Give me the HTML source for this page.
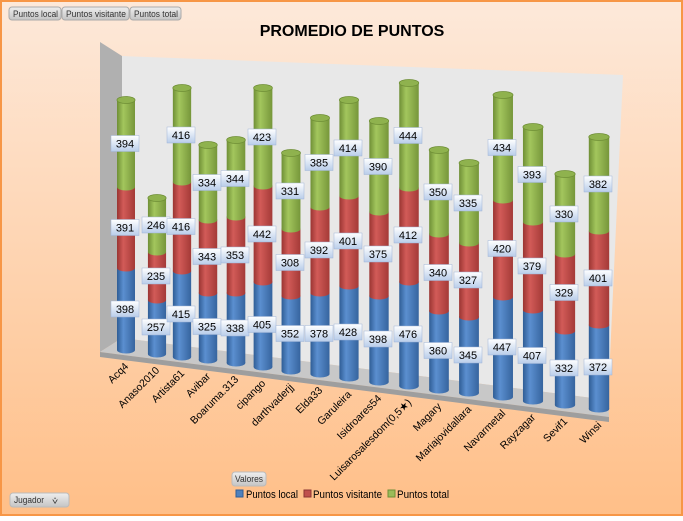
<!DOCTYPE html>
<html><head><meta charset="utf-8"><style>
html,body{margin:0;padding:0}
body{width:683px;height:516px;overflow:hidden;font-family:"Liberation Sans",sans-serif}
</style></head><body>
<svg id="s" width="683" height="516" viewBox="0 0 683 516" xmlns="http://www.w3.org/2000/svg" font-family="Liberation Sans, sans-serif">
<defs>
<linearGradient id="bg" x1="0" y1="0" x2="0" y2="1"><stop offset="0" stop-color="#fde9da"/><stop offset="1" stop-color="#ffbf88"/></linearGradient>
<linearGradient id="gb" x1="0" x2="1"><stop offset="0" stop-color="#2f5d95"/><stop offset="0.35" stop-color="#5b8fd0"/><stop offset="1" stop-color="#36649e"/></linearGradient>
<linearGradient id="gr" x1="0" x2="1"><stop offset="0" stop-color="#9a3532"/><stop offset="0.35" stop-color="#d25b58"/><stop offset="1" stop-color="#a43a37"/></linearGradient>
<linearGradient id="gg" x1="0" x2="1"><stop offset="0" stop-color="#6f8f36"/><stop offset="0.35" stop-color="#a3c65d"/><stop offset="1" stop-color="#76963a"/></linearGradient>
<linearGradient id="lb" x1="0" y1="0" x2="0" y2="1"><stop offset="0" stop-color="#ffffff"/><stop offset="1" stop-color="#b9cdea"/></linearGradient>
<linearGradient id="btn" x1="0" y1="0" x2="0" y2="1"><stop offset="0" stop-color="#eeeeee"/><stop offset="1" stop-color="#c4c4c4"/></linearGradient>
</defs>
<rect x="0" y="0" width="683" height="516" fill="url(#bg)"/>
<rect x="1" y="1" width="681" height="514" fill="none" stroke="#f79646" stroke-width="2"/>
<g font-size="9" fill="#333">
<rect x="9" y="7" width="52" height="13" rx="3" fill="url(#btn)" stroke="#aaa"/><text x="13" y="17" textLength="45" lengthAdjust="spacingAndGlyphs">Puntos local</text>
<rect x="62" y="7" width="67" height="13" rx="3" fill="url(#btn)" stroke="#aaa"/><text x="66" y="17" textLength="60" lengthAdjust="spacingAndGlyphs">Puntos visitante</text>
<rect x="130" y="7" width="51" height="13" rx="3" fill="url(#btn)" stroke="#aaa"/><text x="134" y="17" textLength="44" lengthAdjust="spacingAndGlyphs">Puntos total</text>
<rect x="232" y="472" width="34" height="14" rx="3" fill="url(#btn)" stroke="#bbb"/><text x="235" y="482" textLength="28" lengthAdjust="spacingAndGlyphs">Valores</text>
<rect x="10" y="493" width="59" height="14" rx="3" fill="url(#btn)" stroke="#bbb"/><text x="14" y="503" textLength="30" lengthAdjust="spacingAndGlyphs">Jugador</text>
<text x="52" y="504" font-size="10">⩒</text>
</g>
<text x="352" y="36" text-anchor="middle" font-size="16" font-weight="bold" fill="#000">PROMEDIO DE PUNTOS</text>
<polygon points="100,42 122,56 122,338 100,352" fill="#b0b0b0"/>
<polygon points="122,56 623,75 608,400 122,338" fill="#e8e8e8"/>
<polygon points="100,352 122,338 608,400 609,417" fill="#c8c8c8"/>
<polygon points="100,352 609,417 609,422 100,357" fill="#9e9e9e"/>
<g id="cols"></g>
<g font-size="11" fill="#000">
<rect x="236" y="490" width="7" height="7" fill="#4f81bd" stroke="#2f5d95"/><text x="246" y="498" textLength="52" lengthAdjust="spacingAndGlyphs">Puntos local</text>
<rect x="304" y="490" width="7" height="7" fill="#c0504d" stroke="#8c3532"/><text x="313" y="498" textLength="69" lengthAdjust="spacingAndGlyphs">Puntos visitante</text>
<rect x="388" y="490" width="7" height="7" fill="#9bbb59" stroke="#6f8f36"/><text x="397" y="498" textLength="52" lengthAdjust="spacingAndGlyphs">Puntos total</text>
</g>
</svg>
<script>
var d=[
["Acq4",126,100,187,268,350,398,391,394],
["Anaso2010",157,198,252,300,354,257,235,246],
["Artista61",182,88,182,271,357,415,416,416],
["Avibar",208,145,220,293,360,325,343,334],
["Boaruma.313",236,140,217,293,363,338,353,344],
["cipango",263,88,186,282,367,405,442,423],
["darthvaderjj",291,153,229,296,371,352,308,331],
["Elda33",320,118,207,293,374,378,392,385],
["Garuleira",349,100,196,286,378,428,401,414],
["Isidroares54",379,121,212,296,382,398,375,390],
["Luisarosalesdom(0,5\u2605)",409,83,188,282,386,476,412,444],
["Magary",439,150,234,311,390,360,340,350],
["Mariajovidallara",469,163,243,317,393,345,327,335],
["Navarmetal",503,95,200,297,397,447,420,434],
["Rayzagar",533,127,222,310,401,407,379,393],
["Sevif1",565,174,254,331,405,332,329,330],
["Winsi",599,137,231,325,409,372,401,382]];
var h='';
d.forEach(function(c,i){
var x=c[1],w=18+i*0.15,r=w/2,ry=3.5;
var segs=[[c[4],c[5],'gb','#3d6aa5',c[6]],[c[3],c[4],'gr','#b04542',c[7]],[c[2],c[3],'gg','#86a646',c[8]]];
segs.forEach(function(s){
h+='<rect x="'+(x-r)+'" y="'+s[0]+'" width="'+w+'" height="'+(s[1]-s[0])+'" fill="url(#'+s[2]+')"/>';
h+='<ellipse cx="'+x+'" cy="'+s[1]+'" rx="'+r+'" ry="'+ry+'" fill="url(#'+s[2]+')"/>';
});
h+='<ellipse cx="'+x+'" cy="'+c[2]+'" rx="'+r+'" ry="'+ry+'" fill="#8fb24e" stroke="#6f8f36" stroke-width="0.8"/>';
segs.forEach(function(s){
var my=(s[0]+s[1])/2;
h+='<rect x="'+(x-15)+'" y="'+(my-8)+'" width="28" height="16" fill="url(#lb)" stroke="#9fb4d6" stroke-width="0.5"/>';
h+='<text x="'+(x-1)+'" y="'+(my+4)+'" text-anchor="middle" font-size="11" fill="#000">'+s[4]+'</text>';
});
var lx=x+3,ly=c[5]+17;
h+='<text x="'+lx+'" y="'+ly+'" text-anchor="end" font-size="10.5" fill="#000" transform="rotate(-45 '+lx+' '+ly+')">'+c[0]+'</text>';
});
document.getElementById('cols').innerHTML=h;
</script>
</body></html>
